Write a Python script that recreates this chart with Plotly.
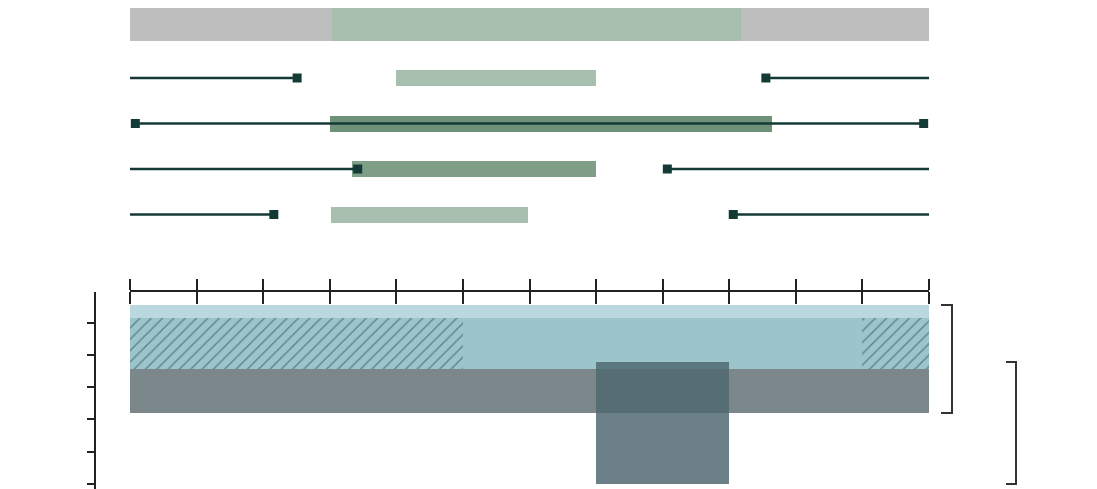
import plotly.graph_objects as go

# ---------------- data (months on a 0-12 scale) ----------------
# Top timeline: first (summary) row split into segments
summary_starts = [0.0, 3.03, 9.18]
summary_ends = [3.03, 9.18, 12.0]
summary_colors = ["#bebebe", "#a7bfad", "#bebebe"]

# Rows 2-5: bars
bar_starts = [4.0, 3.0, 3.33, 3.02]
bar_ends = [7.0, 9.64, 7.0, 5.98]
bar_colors = ["#a7bfae", "#6f9179", "#7f9e88", "#a7bfae"]

# Rows 2-5: whisker lines (left segment, right segment), None = no segment
left_line_start = [0.0, 0.08, 0.0, 0.0]
left_line_end = [2.51, 11.92, 3.42, 2.16]
right_line_start = [9.55, None, 8.07, 9.06]
right_line_end = [12.0, None, 12.0, 12.0]
# marker positions per row
marker_x = [[2.51, 9.55], [0.08, 11.92], [3.42, 8.07], [2.16, 9.06]]

# Bottom panel bands
band_starts = [0.0, 0.0, 0.0]
band_ends = [12.0, 12.0, 12.0]
hatch_starts = [0.0, 11.0]
hatch_ends = [5.0, 12.0]
block_start = 7.0
block_end = 9.0

months = list(range(0, 13))

# ---------------- layout constants (pixel lanes) ----------------
W, H = 1097, 489
X0, X1 = 130, 929
row_centers = [78, 123.5, 169, 214.5]
row_thick = 16
summary_center, summary_thick = 24.5, 33
band_tops = [305, 318, 369]
band_bottoms = [318, 369, 413]
band_colors = ["#bcd8df", "#9cc5cb", "#7b878a"]
block_top, block_bottom = 362, 484
axis_y = 291
line_color = "#143a36"

fig = go.Figure()

# summary row
for s, e, c in zip(summary_starts, summary_ends, summary_colors):
    fig.add_trace(go.Bar(orientation="h", y=[summary_center], x=[e - s], base=[s],
                         width=[summary_thick], marker=dict(color=c, line=dict(width=0)),
                         showlegend=False, hoverinfo="skip"))

# row bars
for yc, s, e, c in zip(row_centers, bar_starts, bar_ends, bar_colors):
    fig.add_trace(go.Bar(orientation="h", y=[yc], x=[e - s], base=[s],
                         width=[row_thick], marker=dict(color=c, line=dict(width=0)),
                         showlegend=False, hoverinfo="skip"))

# bottom bands
for top, bot, s, e, c in zip(band_tops, band_bottoms, band_starts, band_ends, band_colors):
    fig.add_trace(go.Bar(orientation="h", y=[(top + bot) / 2], x=[e - s], base=[s],
                         width=[bot - top], marker=dict(color=c, line=dict(width=0)),
                         showlegend=False, hoverinfo="skip"))
    if c == "#9cc5cb":
        for hs, he in zip(hatch_starts, hatch_ends):
            fig.add_trace(go.Bar(orientation="h", y=[(top + bot) / 2], x=[he - hs], base=[hs],
                                 width=[bot - top],
                                 marker=dict(color="#9cc5cb", line=dict(width=0),
                                             pattern=dict(shape="/", fgcolor="#1f3d44",
                                                          size=8, solidity=0.17)),
                                 showlegend=False, hoverinfo="skip"))

# dark block
fig.add_trace(go.Bar(orientation="h", y=[(block_top + block_bottom) / 2],
                     x=[block_end - block_start], base=[block_start],
                     width=[block_bottom - block_top],
                     marker=dict(color="rgba(79,104,112,0.84)", line=dict(width=0)),
                     showlegend=False, hoverinfo="skip"))

# whisker lines
lx, ly = [], []
for i, yc in enumerate(row_centers):
    lx += [left_line_start[i], left_line_end[i], None]
    ly += [yc, yc, None]
    if right_line_start[i] is not None:
        lx += [right_line_start[i], right_line_end[i], None]
        ly += [yc, yc, None]
fig.add_trace(go.Scatter(x=lx, y=ly, mode="lines", line=dict(color=line_color, width=2.5),
                         showlegend=False, hoverinfo="skip"))
mx, my = [], []
for i, yc in enumerate(row_centers):
    for m in marker_x[i]:
        mx.append(m)
        my.append(yc)
fig.add_trace(go.Scatter(x=mx, y=my, mode="markers",
                         marker=dict(symbol="square", size=9, color=line_color),
                         showlegend=False, hoverinfo="skip"))

# dummy traces to register the extra axes
fig.add_trace(go.Scatter(x=[], y=[], xaxis="x2", yaxis="y", showlegend=False))
fig.add_trace(go.Scatter(x=[], y=[], xaxis="x3", yaxis="y", showlegend=False))
fig.add_trace(go.Scatter(x=[], y=[], xaxis="x", yaxis="y2", showlegend=False))

dom = [X0 / W, X1 / W]
axpos = 1 - axis_y / H
tick_axis = dict(overlaying="x", matches="x", anchor="free", position=axpos,
                 showline=True, linecolor="#222", linewidth=1.5, ticks="outside",
                 tickcolor="#222", tickwidth=1.5, tickvals=months, showticklabels=False,
                 showgrid=False, zeroline=False)

fig.update_layout(
    width=W, height=H, margin=dict(l=0, r=0, t=0, b=0),
    paper_bgcolor="white", plot_bgcolor="rgba(0,0,0,0)",
    barmode="overlay", bargap=0,
    xaxis=dict(domain=dom, range=[0, 12], visible=False, fixedrange=True),
    yaxis=dict(domain=[0, 1], range=[H, 0], visible=False, fixedrange=True),
    xaxis2=dict(side="top", ticklen=11, **tick_axis),
    xaxis3=dict(side="bottom", ticklen=12, **tick_axis),
    yaxis2=dict(domain=[0, (H - 292) / H], range=[H, 292], anchor="free", position=95 / W,
                side="left", showline=True, linecolor="#222", linewidth=1.5,
                ticks="outside", ticklen=7, tickwidth=1.5, tickcolor="#222",
                tick0=291, dtick=32.1, showticklabels=False, showgrid=False, zeroline=False),
)

# brackets
def bracket(x_inner, x_outer, y_top, y_bot):
    xi, xo = x_inner / W, x_outer / W
    fig.add_shape(type="path", xref="paper", yref="y",
                  path=f"M {xi},{y_top} L {xo},{y_top} L {xo},{y_bot} L {xi},{y_bot}",
                  line=dict(color="#333", width=2))

bracket(941, 952, band_tops[0], band_bottoms[-1])
bracket(1006, 1016, block_top, block_bottom)

fig.write_html("out.html", config={"displayModeBar": False},
               post_script="document.body.style.margin='0';document.body.style.overflow='hidden';")
